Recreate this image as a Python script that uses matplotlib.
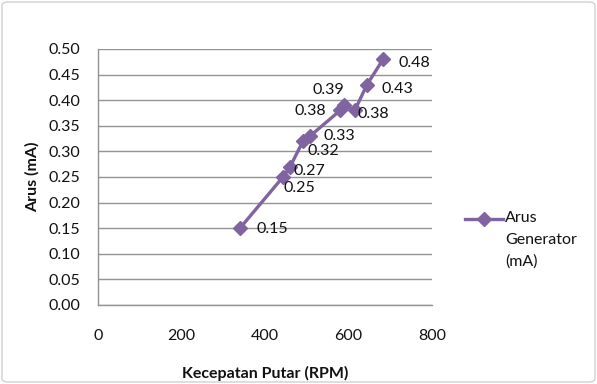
import matplotlib
matplotlib.use("Agg")
import matplotlib.pyplot as plt
from matplotlib.patches import FancyBboxPatch
from matplotlib.lines import Line2D

# Generator current versus rotation speed
speed_rpm = [340, 443, 460, 491, 508, 580, 590, 615, 644, 683]
current_ma = [0.15, 0.25, 0.27, 0.32, 0.33, 0.38, 0.39, 0.38, 0.43, 0.48]
value_labels = ["0.15", "0.25", "0.27", "0.32", "0.33", "0.38", "0.39", "0.38", "0.43", "0.48"]
# label offsets in pixels (dx, dy) and horizontal alignment, relative to each point
label_offsets = [(17, -1, "left"), (1, -11, "left"), (3, -4, "left"), (5, -10, "left"),
                 (13, 0, "left"), (-14, -1, "right"), (-32, 15, "left"),
                 (3, -4, "left"), (15, -4, "left"), (15, -4, "left")]

x_ticks = [0, 200, 400, 600, 800]
y_ticks = [0.00, 0.05, 0.10, 0.15, 0.20, 0.25, 0.30, 0.35, 0.40, 0.45, 0.50]
series_name = "Arus\nGenerator\n(mA)"

purple = "#8064A2"
grid_gray = "#939393"
text_color = "#111111"
fs = 11.5

plt.rcParams["font.family"] = ["Lato", "DejaVu Sans"]

fig = plt.figure(figsize=(5.97, 3.84), dpi=100)
fig.patch.set_facecolor("white")

ax = fig.add_axes([98 / 597, 1 - 305 / 384, (432 - 98) / 597, (305 - 49) / 384])

ax.plot(speed_rpm, current_ma, color=purple, lw=2.4, marker="D", ms=7.5,
        markerfacecolor=purple, markeredgecolor=purple, zorder=3)

for x, y, txt, (dx, dy, ha) in zip(speed_rpm, current_ma, value_labels, label_offsets):
    ax.annotate(txt, (x, y), xytext=(dx, dy), textcoords="offset pixels",
                ha=ha, va="center", fontsize=fs, color=text_color, zorder=4)

ax.set_xlim(0, 800)
ax.set_ylim(0, 0.5)
ax.set_xticks(x_ticks)
ax.set_yticks(y_ticks)
ax.set_xticklabels([str(v) for v in x_ticks])
ax.set_yticklabels([f"{v:.2f}" for v in y_ticks])
ax.tick_params(axis="both", length=0, labelsize=fs, labelcolor=text_color)
ax.tick_params(axis="y", pad=13)
ax.tick_params(axis="x", pad=17)

ax.yaxis.grid(True, color=grid_gray, lw=1.0)
ax.set_axisbelow(True)
for side in ["top", "right"]:
    ax.spines[side].set_visible(False)
for side in ["left", "bottom"]:
    ax.spines[side].set_color(grid_gray)
    ax.spines[side].set_linewidth(1.0)

ax.set_xlabel("Kecepatan Putar (RPM)", fontsize=fs, fontweight="bold",
              color=text_color, labelpad=17)
ax.set_ylabel("Arus (mA)", fontsize=fs, fontweight="bold",
              color=text_color, labelpad=6)

# legend entry drawn on the right side of the chart
fig.add_artist(Line2D([465 / 597, 503 / 597], [1 - 219 / 384, 1 - 219 / 384],
                      transform=fig.transFigure, color=purple, lw=2.4))
fig.add_artist(Line2D([484 / 597], [1 - 219 / 384], transform=fig.transFigure,
                      color=purple, marker="D", ms=7.5, lw=0))
fig.text(505 / 597, 1 - 211 / 384, series_name, ha="left", va="top",
         fontsize=fs, color=text_color, linespacing=1.7,
         transform=fig.transFigure)

# chart area border
fig.add_artist(FancyBboxPatch((2 / 597, 2 / 384), 593 / 597, 380 / 384,
                              boxstyle="round,pad=0,rounding_size=0.01",
                              transform=fig.transFigure, fill=False,
                              edgecolor="#D0D0D0", lw=1.0))

fig.savefig("out.png", dpi=100)
